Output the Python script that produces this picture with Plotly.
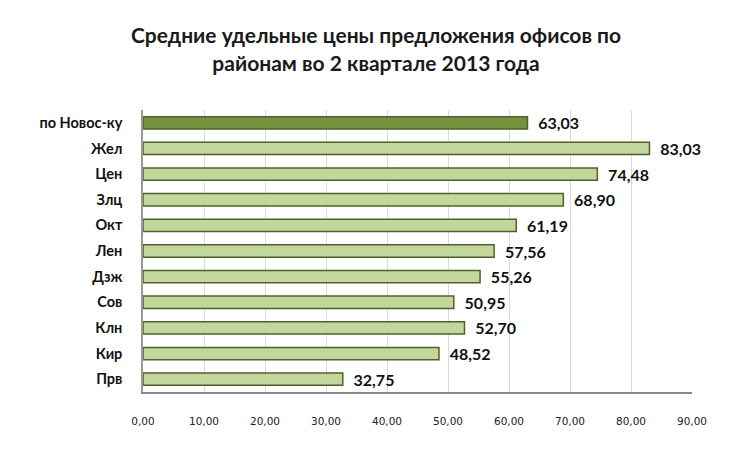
import plotly.graph_objects as go

categories = ["по Новос-ку", "Жел", "Цен", "Злц", "Окт", "Лен", "Дзж", "Сов", "Клн", "Кир", "Прв"]
values = [63.03, 83.03, 74.48, 68.90, 61.19, 57.56, 55.26, 50.95, 52.70, 48.52, 32.75]
tick_vals = [0, 10, 20, 30, 40, 50, 60, 70, 80, 90]
tick_text = ["0,00", "10,00", "20,00", "30,00", "40,00", "50,00", "60,00", "70,00", "80,00", "90,00"]

fill = ["#76923C"] + ["#C3D69B"] * (len(categories) - 1)

fig = go.Figure(go.Bar(
    y=categories,
    x=values,
    orientation="h",
    marker=dict(color=fill, line=dict(color="#4F6228", width=1.5)),
    width=0.48,
    texttemplate="<b>  %{x:.2f}</b>",
    textposition="outside",
    constraintext="none",
    textfont=dict(family="Lato, Open Sans, sans-serif", size=16, color="#111111"),
    cliponaxis=False,
))

fig.update_layout(
    width=752, height=455,
    margin=dict(l=143, r=60, t=110, b=63),
    paper_bgcolor="white", plot_bgcolor="white",
    separators=", ",
    showlegend=False,
    title=dict(
        text="<b>Средние удельные цены предложения офисов по<br>районам во 2 квартале 2013 года</b>",
        x=0.5, xanchor="center", y=0.905, yanchor="top",
        font=dict(family="Lato, Open Sans, sans-serif", size=21, color="#1a1a1a"),
    ),
    xaxis=dict(
        range=[0, 90],
        tickvals=tick_vals, ticktext=tick_text,
        tickfont=dict(family="DejaVu Sans, Verdana, sans-serif", size=10.5, color="#222222"),
        showgrid=True, gridcolor="#D5DAE3", gridwidth=1,
        showline=True, linecolor="#888888", linewidth=2,
        zeroline=False,
        ticks="", ticklabelstandoff=18,
    ),
    yaxis=dict(
        categoryorder="array", categoryarray=categories[::-1],
        tickfont=dict(family="Lato, Open Sans, sans-serif", size=14.5, color="#111111"),
        tickprefix="<b>", ticksuffix="</b>",
        showline=True, linecolor="#999999", linewidth=1.5,
        ticks="", ticklabelstandoff=16,
        range=[-0.5, 10.5],
    ),
)

fig.write_html("out.html")
